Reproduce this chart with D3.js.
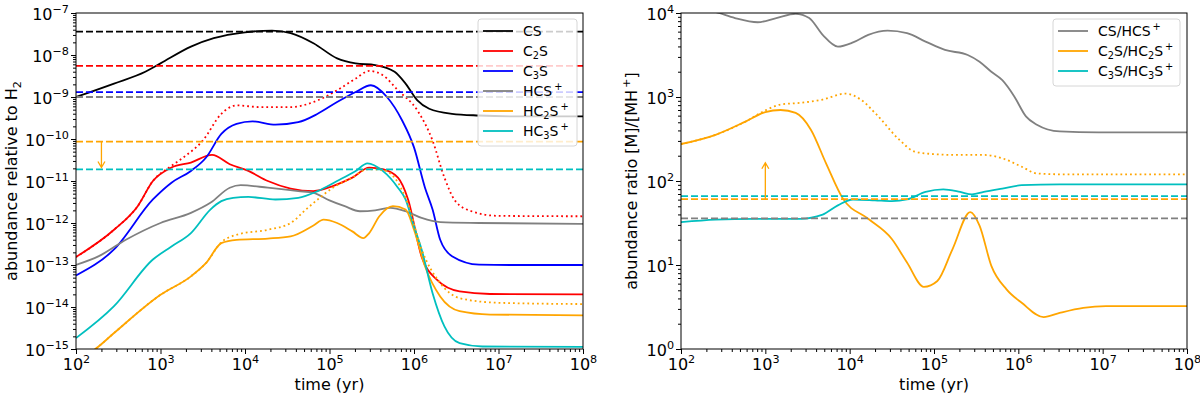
<!DOCTYPE html>
<html>
<head>
<meta charset="UTF-8">
<title>sulphur chemistry</title>
<script src="https://d3js.org/d3.v7.min.js"></script>
<style>
body { margin: 0; background: #fff; }
svg text { font-family: "DejaVu Sans", sans-serif; fill: #000; }
.axis line { stroke: #000; }
.axis path { display: none; }
</style>
</head>
<body>
<script>
// values: [log10(time / yr), log10(value)]
var csAbund = [[2,-9.0],[2.45,-8.68],[2.82,-8.4],[3.0,-8.2],[3.36,-7.8],[3.63,-7.6],[4.0,-7.46],[4.32,-7.42],[4.54,-7.48],[4.81,-7.72],[5.09,-8.08],[5.31,-8.2],[5.54,-8.24],[5.77,-8.4],[5.9,-8.68],[6.04,-9.08],[6.18,-9.28],[6.45,-9.4],[6.77,-9.44],[7.2,-9.46],[8,-9.46]];
var c2sAbund = [[2,-12.81],[2.45,-12.16],[2.73,-11.6],[2.91,-11.0],[3.13,-10.68],[3.36,-10.56],[3.61,-10.38],[3.82,-10.6],[4.04,-10.76],[4.27,-11.0],[4.54,-11.18],[4.81,-11.24],[5.04,-11.12],[5.27,-10.92],[5.47,-10.68],[5.63,-10.72],[5.81,-10.92],[5.93,-11.44],[6.09,-12.8],[6.27,-13.35],[6.54,-13.63],[6.9,-13.69],[8,-13.7]];
var c2sAbundAlt = [[2,-12.81],[2.45,-12.16],[2.73,-11.6],[2.91,-11.0],[3.13,-10.64],[3.27,-10.44],[3.5,-10.04],[3.72,-9.4],[3.9,-9.2],[4.18,-9.24],[4.54,-9.24],[4.86,-9.08],[5.09,-8.84],[5.31,-8.56],[5.47,-8.38],[5.63,-8.48],[5.81,-8.84],[6.04,-9.32],[6.22,-10.04],[6.36,-10.92],[6.49,-11.48],[6.68,-11.72],[7.0,-11.83],[8,-11.84]];
var c3sAbund = [[2,-13.25],[2.45,-12.63],[2.91,-11.44],[3.13,-11.04],[3.36,-10.76],[3.54,-10.44],[3.72,-9.88],[3.9,-9.64],[4.09,-9.58],[4.36,-9.66],[4.63,-9.6],[4.86,-9.4],[5.09,-9.12],[5.31,-8.88],[5.49,-8.72],[5.68,-9.0],[5.86,-9.56],[6.0,-10.2],[6.13,-11.16],[6.22,-11.68],[6.31,-12.4],[6.45,-12.79],[6.77,-12.99],[7.2,-13.0],[8,-13.0]];
var hcsAbund = [[2,-13.0],[2.27,-12.79],[2.59,-12.4],[3.0,-12.0],[3.36,-11.76],[3.59,-11.52],[3.82,-11.16],[3.95,-11.1],[4.27,-11.16],[4.63,-11.24],[4.81,-11.28],[5.0,-11.46],[5.18,-11.6],[5.36,-11.72],[5.54,-11.7],[5.72,-11.64],[5.9,-11.72],[6.09,-11.88],[6.31,-11.98],[6.77,-12.0],[8,-12.02]];
var hc2sAbund = [[2,-15.3],[2.23,-15.0],[2.45,-14.62],[3.0,-13.71],[3.36,-13.27],[3.54,-12.95],[3.72,-12.48],[3.9,-12.4],[4.27,-12.37],[4.54,-12.32],[4.81,-12.06],[4.93,-11.92],[5.09,-12.0],[5.27,-12.2],[5.4,-12.36],[5.47,-12.24],[5.59,-11.84],[5.75,-11.6],[5.9,-11.68],[6.0,-12.16],[6.13,-13.03],[6.31,-13.75],[6.54,-14.1],[6.9,-14.18],[8,-14.2]];
var hc2sAbundAlt = [[2,-15.3],[2.23,-15.0],[2.45,-14.62],[3.0,-13.71],[3.36,-13.27],[3.54,-12.95],[3.72,-12.46],[3.9,-12.28],[4.27,-12.16],[4.54,-12.0],[4.72,-11.68],[4.86,-11.44],[5.04,-11.16],[5.27,-10.92],[5.45,-10.72],[5.63,-10.74],[5.77,-10.92],[5.92,-11.5],[6.09,-12.63],[6.31,-13.43],[6.54,-13.79],[7.0,-13.9],[8,-13.93]];
var hc3sAbund = [[2,-14.74],[2.45,-13.98],[2.91,-12.87],[3.13,-12.56],[3.36,-12.24],[3.59,-11.68],[3.72,-11.48],[3.86,-11.4],[4.04,-11.38],[4.36,-11.44],[4.63,-11.4],[4.86,-11.24],[5.09,-11.0],[5.31,-10.76],[5.45,-10.58],[5.63,-10.76],[5.81,-11.16],[5.9,-11.44],[6.0,-12.08],[6.09,-12.63],[6.22,-13.67],[6.36,-14.46],[6.54,-14.86],[6.81,-14.94],[8,-14.95]];

var csRatio = [[2,4.12],[2.25,4.06],[2.45,4.0],[2.64,3.94],[2.91,3.89],[3.13,3.94],[3.36,3.99],[3.52,3.94],[3.68,3.74],[3.86,3.6],[4.04,3.65],[4.22,3.74],[4.45,3.79],[4.68,3.76],[4.9,3.66],[5.13,3.56],[5.4,3.5],[5.54,3.42],[5.68,3.3],[5.81,3.2],[5.95,3.01],[6.09,2.77],[6.22,2.67],[6.49,2.59],[6.95,2.58],[8,2.58]];
var c2sRatio = [[2,2.44],[2.41,2.55],[2.77,2.71],[3.0,2.82],[3.18,2.845],[3.36,2.81],[3.54,2.61],[3.72,2.21],[3.92,1.79],[4.22,1.55],[4.5,1.31],[4.68,1.03],[4.88,0.74],[5.04,0.81],[5.22,1.19],[5.43,1.63],[5.54,1.47],[5.68,0.99],[5.86,0.71],[6.04,0.55],[6.3,0.38],[6.49,0.43],[6.77,0.49],[7.04,0.51],[8,0.51]];
var c2sRatioAlt = [[2,2.44],[2.41,2.55],[2.77,2.71],[3.0,2.84],[3.18,2.91],[3.41,2.93],[3.68,2.97],[3.95,3.04],[4.13,2.97],[4.32,2.79],[4.59,2.49],[4.77,2.35],[5.0,2.32],[5.27,2.31],[5.59,2.31],[5.81,2.27],[6.04,2.17],[6.22,2.09],[6.49,2.08],[8,2.08]];
var c3sRatio = [[2,1.51],[2.41,1.54],[2.86,1.55],[3.41,1.55],[3.68,1.6],[3.86,1.71],[4.04,1.78],[4.3,1.77],[4.5,1.76],[4.68,1.78],[4.9,1.87],[5.11,1.9],[5.31,1.87],[5.45,1.84],[5.59,1.87],[5.81,1.91],[6.04,1.95],[6.49,1.96],[8,1.96]];

// observed values (dashed lines)
var obsAbund = [3.6e-8, 5.5e-9, 1.3e-9, 1.0e-9, 8.7e-11, 1.9e-11];
var obsRatio = [35.8, 61, 66];
// upper / lower limit arrows: [time, from, to]
var abundArrow = [200, 8.7e-11, 2.1e-11];
var ratioArrow = [1000, 61, 165];

var timeExp = [2, 3, 4, 5, 6, 7, 8];
var abundExp = [-15, -14, -13, -12, -11, -10, -9, -8, -7];
var ratioExp = [0, 1, 2, 3, 4];

// legend labels: [text, 0 normal / -1 sub / 1 sup]
var abundNames = [
  [["CS",0]],
  [["C",0],["2",-1],["S",0]],
  [["C",0],["3",-1],["S",0]],
  [["HCS",0],["+",1]],
  [["HC",0],["2",-1],["S",0],["+",1]],
  [["HC",0],["3",-1],["S",0],["+",1]]
];
var ratioNames = [
  [["CS/HCS",0],["+",1]],
  [["C",0],["2",-1],["S/HC",0],["2",-1],["S",0],["+",1]],
  [["C",0],["3",-1],["S/HC",0],["3",-1],["S",0],["+",1]]
];

var black = "#000000", red = "#ff0000", blue = "#0000ff", grey = "#808080", orange = "#ffa500", cyan = "#00bfbf";

var svg = d3.select("body").append("svg").attr("width", 1200).attr("height", 397);
var defs = svg.append("defs");

// write label parts with sub/superscripts into a text element
function richText(sel, parts, size) {
  var shift = 0;
  parts.forEach(function(p) {
    var target = p[1] * -0.42 * size;
    if (p[1] === -1) target = 0.22 * size;
    var t = sel.append("tspan").text(p[0]).attr("dy", target - shift);
    if (p[1] !== 0) t.attr("font-size", size * 0.7);
    if (p[1] === 1) t.attr("dx", 2);
    shift = target;
  });
}

function powLabel(sel, e, size) {
  sel.append("tspan").text("10");
  sel.append("tspan").attr("dy", -0.42 * size).attr("font-size", size * 0.7)
    .text(e < 0 ? "\u2212" + (-e) : String(e));
}

function minors(lo, hi) {
  var out = [];
  for (var d = lo; d < hi; d++)
    for (var m = 2; m < 10; m++) out.push(m * Math.pow(10, d));
  return out;
}

function drawPanel(p) {
  var x = d3.scaleLog().domain([1e2, 1e8]).range([p.x0, p.x1]);
  var y = d3.scaleLog().domain([Math.pow(10, p.yExp[0]), Math.pow(10, p.yExp[p.yExp.length - 1])]).range([p.y1, p.y0]);
  var fs = 16;

  defs.append("clipPath").attr("id", "clip" + p.id)
    .append("rect").attr("x", p.x0).attr("y", p.y0).attr("width", p.x1 - p.x0).attr("height", p.y1 - p.y0);

  var plot = svg.append("g").attr("clip-path", "url(#clip" + p.id + ")");

  var line = d3.line()
    .x(function(d) { return x(Math.pow(10, d[0])); })
    .y(function(d) { return y(Math.pow(10, d[1])); })
    .curve(d3.curveMonotoneX);

  p.curves.forEach(function(c) {
    plot.append("path")
      .attr("d", line(c.data))
      .attr("fill", "none")
      .attr("stroke", c.color)
      .attr("stroke-width", 1.8)
      .attr("stroke-dasharray", c.dotted ? "1.8,3" : null);
  });

  p.levels.forEach(function(v, i) {
    plot.append("line")
      .attr("x1", p.x0).attr("x2", p.x1)
      .attr("y1", y(v)).attr("y2", y(v))
      .attr("stroke", p.levelColors[i])
      .attr("stroke-width", 1.8)
      .attr("stroke-dasharray", "7,3");
  });

  // arrow marking a limit
  var ax = x(p.arrow[0]), ay0 = y(p.arrow[1]), ay1 = y(p.arrow[2]);
  var dir = ay1 > ay0 ? 1 : -1;
  plot.append("path")
    .attr("d", "M" + ax + "," + ay0 + "L" + ax + "," + ay1 +
      "M" + (ax - 3.5) + "," + (ay1 - dir * 6) + "L" + ax + "," + ay1 + "L" + (ax + 3.5) + "," + (ay1 - dir * 6))
    .attr("fill", "none").attr("stroke", orange).attr("stroke-width", 1.3);

  // axes
  var xMaj = timeExp.map(function(e) { return Math.pow(10, e); });
  var yMaj = p.yExp.map(function(e) { return Math.pow(10, e); });

  svg.append("g").attr("class", "axis").attr("transform", "translate(0," + p.y1 + ")")
    .call(d3.axisBottom(x).tickValues(minors(2, 8)).tickSize(3).tickFormat(""));
  var gx = svg.append("g").attr("class", "axis").attr("transform", "translate(0," + p.y1 + ")")
    .call(d3.axisBottom(x).tickValues(xMaj).tickSize(5).tickFormat(""));
  gx.selectAll(".tick").each(function(d, i) {
    var t = d3.select(this).append("text")
      .attr("y", 21).attr("text-anchor", "middle").attr("font-size", fs).attr("fill", "#000");
    powLabel(t, timeExp[i], fs);
  });

  svg.append("g").attr("class", "axis").attr("transform", "translate(" + p.x0 + ",0)")
    .call(d3.axisLeft(y).tickValues(minors(p.yExp[0], p.yExp[p.yExp.length - 1])).tickSize(3).tickFormat(""));
  var gy = svg.append("g").attr("class", "axis").attr("transform", "translate(" + p.x0 + ",0)")
    .call(d3.axisLeft(y).tickValues(yMaj).tickSize(5).tickFormat(""));
  gy.selectAll(".tick").each(function(d, i) {
    var t = d3.select(this).append("text")
      .attr("x", -7).attr("y", 6).attr("text-anchor", "end").attr("font-size", fs).attr("fill", "#000");
    powLabel(t, p.yExp[i], fs);
  });

  svg.append("rect")
    .attr("x", p.x0).attr("y", p.y0).attr("width", p.x1 - p.x0).attr("height", p.y1 - p.y0)
    .attr("fill", "none").attr("stroke", "#000").attr("stroke-width", 1);

  svg.append("text")
    .attr("x", (p.x0 + p.x1) / 2).attr("y", 390)
    .attr("text-anchor", "middle").attr("font-size", fs)
    .text("time (yr)");

  var yl = svg.append("text")
    .attr("transform", "translate(" + p.ylabelX + "," + ((p.y0 + p.y1) / 2) + ") rotate(-90)")
    .attr("text-anchor", "middle").attr("font-size", fs);
  richText(yl, p.ylabel, fs);

  // legend
  var lg = p.legend, lfs = 14;
  svg.append("rect")
    .attr("x", lg.x).attr("y", lg.y).attr("width", lg.w).attr("height", lg.h)
    .attr("rx", 3).attr("fill", "#fff").attr("fill-opacity", 0.8)
    .attr("stroke", "#d6d6d6").attr("stroke-width", 1);
  p.names.forEach(function(nm, i) {
    var yy = lg.y + 12 + i * 20;
    svg.append("line")
      .attr("x1", lg.x + 5).attr("x2", lg.x + 35).attr("y1", yy).attr("y2", yy)
      .attr("stroke", p.curves.filter(function(c) { return !c.dotted; })[i].color)
      .attr("stroke-width", 1.8);
    var t = svg.append("text").attr("x", lg.x + 45).attr("y", yy + 5).attr("font-size", lfs);
    richText(t, nm, lfs);
  });
}

drawPanel({
  id: "L", x0: 76, x1: 583, y0: 13, y1: 349,
  yExp: abundExp,
  curves: [
    {data: csAbund, color: black},
    {data: c2sAbund, color: red},
    {data: c3sAbund, color: blue},
    {data: hcsAbund, color: grey},
    {data: hc2sAbund, color: orange},
    {data: hc3sAbund, color: cyan},
    {data: c2sAbundAlt, color: red, dotted: true},
    {data: hc2sAbundAlt, color: orange, dotted: true}
  ],
  levels: obsAbund,
  levelColors: [black, red, blue, grey, orange, cyan],
  arrow: abundArrow,
  ylabel: [["abundance relative to H",0],["2",-1]],
  ylabelX: 17,
  names: abundNames,
  legend: {x: 478, y: 19, w: 99, h: 127}
});

drawPanel({
  id: "R", x0: 681, x1: 1187, y0: 13, y1: 349,
  yExp: ratioExp,
  curves: [
    {data: csRatio, color: grey},
    {data: c2sRatio, color: orange},
    {data: c3sRatio, color: cyan},
    {data: c2sRatioAlt, color: orange, dotted: true}
  ],
  levels: obsRatio,
  levelColors: [grey, orange, cyan],
  arrow: ratioArrow,
  ylabel: [["abundance ratio [M]/[MH",0],["+",1],["]",0]],
  ylabelX: 637,
  names: ratioNames,
  legend: {x: 1053, y: 19, w: 127, h: 67}
});
</script>
</body>
</html>
